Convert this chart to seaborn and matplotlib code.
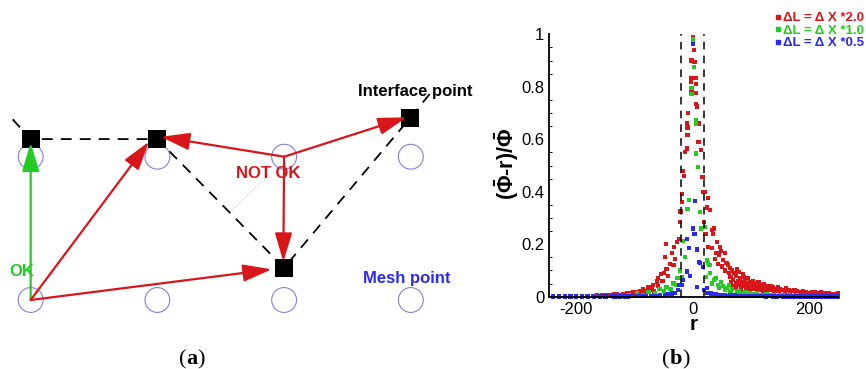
import matplotlib
matplotlib.use("Agg")
import matplotlib.pyplot as plt
import numpy as np
import pandas as pd
import seaborn as sns
from matplotlib.patches import FancyArrowPatch
from matplotlib.lines import Line2D
from matplotlib.ticker import MultipleLocator

# ---------------- panel (b) data ----------------
series_labels = ["\u0394L = \u0394 X *2.0", "\u0394L = \u0394 X *1.0", "\u0394L = \u0394 X *0.5"]

red_r = [1, 2, -2, 3, -2, 5, -3, 5, -2, 6,
         6, 7, -8, -10, -9, 10, -9, 10, -10, 14,
         -13, -16, -15, 17, 18, 21, 27, 25, -19, -19,
         -21, -22, 20, 33, 35, 27, 33, 41, 45, 38,
         44, 50, 56, 48, 22, -24, -32, -36, -30, -39,
         -45, -27, -33, -46, -48, -50, -55, -59, -62, -68,
         -76, -42, -52, -60, -70, -74, -78, -82, -85, -90,
         -95, -102, -110, -113, -120, -130, -140, -148, -155, -165,
         -172, -182, -190, -105, -125, -135, -160, -98, -88, -66,
         30, 37, 42, 47, 52, 55, 58, 60, 62, 64,
         65, 68, 70, 72, 75, 76, 78, 80, 82, 85,
         86, 88, 90, 92, 95, 98, 100, 103, 106, 110,
         113, 116, 120, 123, 127, 130, 134, 138, 142, 146,
         150, 155, 160, 165, 170, 175, 180, 185, 190, 195,
         200, 205, 210, 215, 220, 225, 230, 235, 240, 245,
         250, 248, 238, 228, 218, 208, 198, 188, 178, 168,
         158, 148, 136, 125, 118, 108, 96, 84, 74, 66,
         70, 74, 79, 83, 87, 91, 94, 97, 101, 104,
         107, 111, 114, 118, 121, 124, 128, 132, 140, 145]
red_v = [0.99, 0.94, 0.90, 0.895, 0.835, 0.835, 0.82, 0.81, 0.78, 0.775,
         0.735, 0.725, 0.70, 0.66, 0.645, 0.66, 0.615, 0.59, 0.565, 0.56,
         0.55, 0.48, 0.46, 0.455, 0.40, 0.40, 0.375, 0.34, 0.39, 0.36,
         0.325, 0.285, 0.285, 0.255, 0.24, 0.19, 0.185, 0.165, 0.16, 0.145,
         0.125, 0.115, 0.10, 0.175, 0.24, 0.22, 0.19, 0.165, 0.145, 0.125,
         0.105, 0.21, 0.12, 0.20, 0.15, 0.09, 0.085, 0.07, 0.058, 0.045,
         0.038, 0.08, 0.06, 0.04, 0.03, 0.025, 0.02, 0.015, 0.03, 0.022,
         0.018, 0.016, 0.012, 0.014, 0.011, 0.009, 0.008, 0.007, 0.006, 0.005,
         0.004, 0.004, 0.003, 0.010, 0.007, 0.011, 0.003, 0.008, 0.012, 0.020,
         0.33, 0.26, 0.21, 0.19, 0.14, 0.165, 0.13, 0.12, 0.09, 0.11,
         0.075, 0.10, 0.065, 0.09, 0.08, 0.105, 0.06, 0.095, 0.07, 0.055,
         0.085, 0.075, 0.06, 0.05, 0.07, 0.055, 0.045, 0.06, 0.05, 0.04,
         0.055, 0.045, 0.035, 0.048, 0.04, 0.032, 0.042, 0.035, 0.028, 0.036,
         0.03, 0.025, 0.032, 0.026, 0.022, 0.027, 0.022, 0.019, 0.023, 0.018,
         0.015, 0.019, 0.016, 0.013, 0.016, 0.014, 0.012, 0.014, 0.011, 0.010,
         0.012, 0.007, 0.008, 0.009, 0.010, 0.011, 0.012, 0.014, 0.016, 0.018,
         0.020, 0.022, 0.026, 0.030, 0.030, 0.034, 0.040, 0.045, 0.050, 0.055,
         0.040, 0.035, 0.045, 0.030, 0.040, 0.035, 0.030, 0.040, 0.030, 0.035,
         0.028, 0.032, 0.025, 0.027, 0.022, 0.026, 0.020, 0.024, 0.020, 0.022]

green_r = [1, 2, -2, -2, 6, 6, 6, 9, -6, -9,
           13, 14, -17, -13, -19, 25, 29, 23, 36, 44,
           -33, -45, -57, -76, -96, 58, 76, 99, 127, 156,
           -22, -26, -28, -38, -50, -65, -85, -110, -130, 30,
           33, 40, 48, 52, 62, 68, 80, 90, 110, 140,
           180, 210, 240, 21, 26, 38, 45, 55, 65, 85,
           95, 105, 115, 120, 135, 150, 165, 175, 195, 225]
green_v = [0.98, 0.875, 0.795, 0.772, 0.673, 0.658, 0.546, 0.495, 0.368, 0.334,
           0.324, 0.26, 0.213, 0.152, 0.076, 0.14, 0.12, 0.076, 0.064, 0.044,
           0.05, 0.038, 0.028, 0.019, 0.013, 0.032, 0.023, 0.015, 0.010, 0.006,
           0.10, 0.07, 0.045, 0.03, 0.022, 0.012, 0.008, 0.005, 0.003, 0.09,
           0.05, 0.07, 0.055, 0.04, 0.045, 0.028, 0.02, 0.018, 0.012, 0.008,
           0.005, 0.004, 0.003, 0.267, 0.13, 0.067, 0.035, 0.025, 0.018, 0.012,
           0.010, 0.009, 0.008, 0.007, 0.006, 0.005, 0.005, 0.004, 0.003, 0.003]

blue_r = [1, 4, 0, 3, -10, -6, 11, 18, -10, -16,
          -23, 7, 24, -19, -25, 20, 24, 7, 13, -4,
          -240, -230, -220, -210, -200, -190, -180, -170, -160, -150,
          -140, -130, -120, -112, -104, -96, -88, -80, -72, -64,
          -56, -48, -42, -36, -31, 28, 32, 36, 40, 44,
          48, 52, 56, 60, 64, 68, 72, 76, 80, 85,
          90, 95, 100, 105, 110, 115, 120, 126, 132, 138,
          144, 150, 156, 162, 168, 175, 182, 189, 196, 203,
          210, 217, 224, 231, 238, 245, 250, -135, -125, -116]
blue_v = [0.963, 0.366, 0.26, 0.24, 0.219, 0.185, 0.133, 0.114, 0.096, 0.064,
          0.045, 0.038, 0.032, 0.044, 0.025, 0.025, 0.013, 0.18, 0.127, 0.08,
          0.001, 0.001, 0.001, 0.001, 0.001, 0.001, 0.001, 0.001, 0.001, 0.001,
          0.002, 0.001, 0.002, 0.001, 0.002, 0.002, 0.003, 0.002, 0.003, 0.004,
          0.006, 0.008, 0.010, 0.012, 0.015, 0.015, 0.012, 0.009, 0.011, 0.007,
          0.008, 0.005, 0.007, 0.004, 0.006, 0.004, 0.005, 0.003, 0.004, 0.003,
          0.003, 0.002, 0.003, 0.002, 0.002, 0.002, 0.002, 0.001, 0.002, 0.001,
          0.001, 0.002, 0.001, 0.001, 0.001, 0.001, 0.001, 0.001, 0.001, 0.001,
          0.001, 0.001, 0.001, 0.001, 0.001, 0.001, 0.001, 0.001, 0.001, 0.001]

band_edges = [-20, 20]
x_ticks = [-200, 0, 200]
x_tick_labels = ["-200", "0", "200"]
y_ticks = [0, 0.2, 0.4, 0.6, 0.8, 1]
y_tick_labels = ["0", "0.2", "0.4", "0.6", "0.8", "1"]

# ---------------- panel (a) data (grid units) ----------------
mesh_cols = [0, 1, 2, 3]
mesh_rows = [0, 1]
iface_x = [0.0, 1.0, 2.994, 2.0]
iface_y = [1.123, 1.123, 1.27, 0.225]
curve_x = [-0.142, 0.0, 1.0, 2.0, 2.994, 3.175]
curve_y = [1.261, 1.123, 1.123, 0.225, 1.27, 1.465]
ok_start = (0.0, 0.0)
ok_end = (0.0, 1.098)
bad_x0 = [0.0, 0.0, 2.0, 2.0, 2.0]
bad_y0 = [0.0, 0.0, 1.0, 1.0, 1.0]
bad_x1 = [0.934, 1.902, 1.028, 2.968, 1.994]
bad_y1 = [1.105, 0.214, 1.139, 1.275, 0.267]

# ---------------- style ----------------
sns.set_theme(style="white")
plt.rcParams["font.family"] = ["Liberation Sans", "DejaVu Sans"]
plt.rcParams["mathtext.fontset"] = "custom"
plt.rcParams["mathtext.rm"] = "Liberation Sans"
plt.rcParams["mathtext.bf"] = "Liberation Sans:bold"
plt.rcParams["mathtext.it"] = "Liberation Sans:italic"
for k in ["text.color", "axes.labelcolor", "xtick.color", "ytick.color", "axes.edgecolor"]:
    plt.rcParams[k] = "black"

RED = "#d8161a"
GREEN = "#22cc22"
BLUE = "#2a2af0"
series_colors = [RED, GREEN, BLUE]

W, H = 866.0, 369.0
fig = plt.figure(figsize=(8.66, 3.69), dpi=100)
fig.patch.set_facecolor("white")

# ---------------- panel (a) ----------------
axa = fig.add_axes([0, 1 - 320 / H, 480 / W, 260 / H])
axa.set_xlim(-0.242, 3.546)
axa.set_ylim(-0.1396, 1.675)
axa.axis("off")

axa.plot(curve_x, curve_y, color="black", lw=1.3, ls=(0, (6, 4.5)), zorder=1)
axa.plot([1.865, 1.573], [0.858, 0.614], color="#c8c8c8", lw=0.8, ls=":", zorder=1)

mx = [c for r in mesh_rows for c in mesh_cols]
my = [r for r in mesh_rows for c in mesh_cols]
axa.scatter(mx, my, s=320, marker="o", facecolors="none", edgecolors="#8080dc",
            linewidths=0.8, zorder=2)
sns.scatterplot(x=iface_x, y=iface_y, marker="s", s=150, color="black",
                edgecolor="black", linewidth=0, ax=axa, zorder=4, legend=False)

astyle = "-|>,head_length=1.6,head_width=0.48"
axa.add_patch(FancyArrowPatch(ok_start, ok_end, arrowstyle=astyle, mutation_scale=11,
                              color=GREEN, lw=1.6, shrinkA=0, shrinkB=0, zorder=5))
for x0, y0, x1, y1 in zip(bad_x0, bad_y0, bad_x1, bad_y1):
    axa.add_patch(FancyArrowPatch((x0, y0), (x1, y1), arrowstyle=astyle, mutation_scale=11,
                                  color=RED, lw=1.6, shrinkA=0, shrinkB=0, zorder=5))

axa.text(3.033, 1.454, "Interface point", fontsize=12, fontweight="bold",
         color="black", ha="center", va="center", zorder=6)
axa.text(1.873, 0.884, "NOT OK", fontsize=12, fontweight="bold",
         color=RED, ha="center", va="center", zorder=6)
axa.text(-0.071, 0.197, "OK", fontsize=12, fontweight="bold",
         color=GREEN, ha="center", va="center", zorder=6)
axa.text(2.968, 0.151, "Mesh point", fontsize=12, fontweight="bold",
         color=BLUE, ha="center", va="center", zorder=6)

# ---------------- panel (b) ----------------
axb = fig.add_axes([549 / W, 1 - 296.7 / H, 289 / W, 262.4 / H])
df = pd.concat([
    pd.DataFrame({"r": red_r, "v": red_v, "series": series_labels[0]}),
    pd.DataFrame({"r": green_r, "v": green_v, "series": series_labels[1]}),
    pd.DataFrame({"r": blue_r, "v": blue_v, "series": series_labels[2]}),
], ignore_index=True)
sns.scatterplot(data=df, x="r", y="v", hue="series",
                palette=dict(zip(series_labels, series_colors)),
                marker="s", s=9, linewidth=0, ax=axb, legend=False, clip_on=False)
for xe in band_edges:
    axb.axvline(xe, color="black", lw=1.1, ls=(0, (5, 4)), zorder=3)

axb.set_xlim(-247, 249.8)
axb.set_ylim(0, 1)
axb.set_xticks(x_ticks, x_tick_labels)
axb.set_yticks(y_ticks, y_tick_labels)
axb.yaxis.set_minor_locator(MultipleLocator(0.05))
axb.tick_params(axis="both", which="major", direction="in", length=5, width=1.1,
                labelsize=12, pad=3.5)
axb.tick_params(axis="y", which="minor", direction="in", length=2.5, width=0.7, left=True)
for s in ["top", "right"]:
    axb.spines[s].set_visible(False)
for s in ["left", "bottom"]:
    axb.spines[s].set_linewidth(1.3)
    axb.spines[s].set_color("black")
axb.set_facecolor("white")

axb.set_xlabel("r", fontsize=15, fontweight="bold", labelpad=-1)
axb.set_ylabel(r"($\mathbf{\bar{\Phi}}$-r)/$\mathbf{\bar{\Phi}}$", fontsize=15.5,
               fontweight="bold")
axb.yaxis.set_label_coords(-0.096, 0.508)

handles = [Line2D([0], [0], marker="s", ls="none", color=c, markersize=2.5) for c in series_colors]
axb.legend(handles, series_labels, loc="upper left", bbox_to_anchor=(776 / W, 1 - 12 / H),
           bbox_transform=fig.transFigure, frameon=False, handlelength=0.35,
           handletextpad=0.2, labelspacing=0.02, borderpad=0, borderaxespad=0,
           prop={"weight": "bold", "size": 9.5}, labelcolor=series_colors)

# ---------------- panel captions ----------------
def caption(cx, letter):
    y = 1 - 364.5 / H
    t1 = fig.text(0, y, "(", fontsize=16, family="Liberation Serif", ha="left", va="baseline")
    t2 = fig.text(0, y, letter, fontsize=16, family="Liberation Serif", fontweight="bold",
                  ha="left", va="baseline")
    t3 = fig.text(0, y, ")", fontsize=16, family="Liberation Serif", ha="left", va="baseline")
    r = fig.canvas.get_renderer()
    w1 = t1.get_window_extent(r).width
    w2 = t2.get_window_extent(r).width
    w3 = t3.get_window_extent(r).width
    x0 = cx - (w1 + w2 + w3) / 2
    t1.set_x(x0 / W)
    t2.set_x((x0 + w1) / W)
    t3.set_x((x0 + w1 + w2) / W)

caption(192, "a")
caption(676, "b")

fig.savefig("out.png", dpi=100)
